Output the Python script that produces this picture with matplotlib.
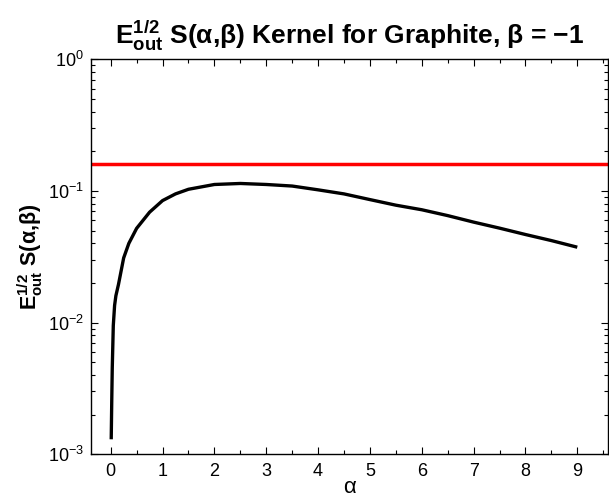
import numpy as np
import matplotlib
matplotlib.use('Agg')
import matplotlib.pyplot as plt
from matplotlib.ticker import MultipleLocator, LogLocator, NullFormatter

plt.rcParams['font.family'] = ['Liberation Sans', 'DejaVu Sans']
plt.rcParams['mathtext.fontset'] = 'custom'
plt.rcParams['mathtext.rm'] = 'Liberation Sans'
plt.rcParams['mathtext.bf'] = 'Liberation Sans:bold'
plt.rcParams['mathtext.it'] = 'Liberation Sans:italic'

# kernel values
alpha = [0.01, 0.02, 0.03, 0.05, 0.075, 0.1, 0.15, 0.25, 0.35, 0.5, 0.75,
         1.0, 1.25, 1.5, 2.0, 2.5, 3.0, 3.5, 4.0, 4.5, 5.0, 5.5, 6.0, 6.5,
         7.0, 7.5, 8.0, 8.5, 9.0]
kernel = [1.3e-3, 2.5e-3, 4.5e-3, 9.5e-3, 0.0135, 0.016, 0.0195, 0.031, 0.040,
          0.052, 0.069, 0.0845, 0.095, 0.103, 0.112, 0.114, 0.112, 0.109,
          0.102, 0.095, 0.086, 0.078, 0.072, 0.065, 0.058, 0.0522, 0.0467,
          0.042, 0.0374]
threshold = 0.16

fig = plt.figure(figsize=(6.09, 5.0), dpi=100)
ax = fig.add_axes([0.149, 0.0914, 0.850, 0.790])

ax.plot(alpha, kernel, color='black', lw=2.4, solid_capstyle='butt')
ax.axhline(threshold, color='red', lw=2.5)

ax.set_yscale('log')
ax.set_ylim(1e-3, 1)
ax.set_xlim(-0.385, 9.6)

ax.xaxis.set_major_locator(MultipleLocator(1))
ax.xaxis.set_minor_locator(MultipleLocator(0.5))
ax.yaxis.set_major_locator(LogLocator(base=10, numticks=10))
ax.yaxis.set_minor_locator(LogLocator(base=10, subs=np.arange(2, 10), numticks=10))
ax.yaxis.set_minor_formatter(NullFormatter())

ax.tick_params(which='both', direction='in', top=True, right=True, labelsize=13)
ax.tick_params(which='major', length=5, width=0.8)
ax.tick_params(which='minor', length=3, width=0.8)
ax.tick_params(axis='x', pad=6)
ax.tick_params(axis='y', pad=5)
for s in ax.spines.values():
    s.set_linewidth(1.0)

ax.set_xlabel('α', fontsize=16, labelpad=-2)
ax.set_ylabel(r'$\mathbf{E^{1/2}_{out}}$ S(α,β)', fontsize=15.5, fontweight='bold', labelpad=2)
ax.set_title(r'$\mathbf{E^{1/2}_{out}}$ S(α,β) Kernel for Graphite, β = −1',
             fontsize=19, fontweight='bold', pad=11)

fig.savefig('out.png', dpi=100)
